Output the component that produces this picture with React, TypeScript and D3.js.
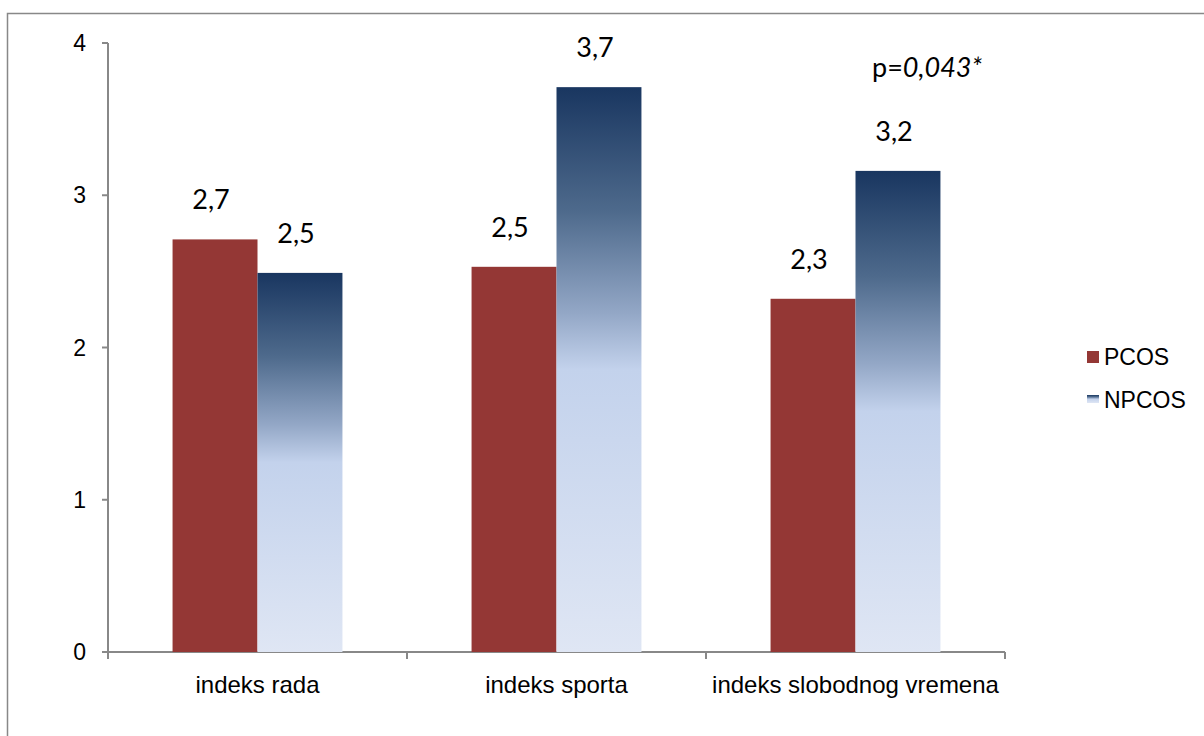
import { useEffect, useRef } from "react";
import * as d3 from "d3";

const categories = ["indeks rada", "indeks sporta", "indeks slobodnog vremena"];
const seriesNames = ["PCOS", "NPCOS"];
const pcosValues = [2.71, 2.53, 2.32];
const npcosValues = [2.49, 3.71, 3.16];
const yTicks = [0, 1, 2, 3, 4];

export default function App() {
  const svgRef = useRef<SVGSVGElement | null>(null);
  const width = 1204;
  const height = 736;
  const margin = { top: 43, left: 108, right: 199, bottom: 84 };

  useEffect(() => {
    if (!svgRef.current) return;
    const svg = d3.select(svgRef.current);
    svg.selectAll("*").remove();

    const defs = svg.append("defs");
    const grad = defs
      .append("linearGradient")
      .attr("id", "npcosGrad")
      .attr("x1", 0)
      .attr("y1", 0)
      .attr("x2", 0)
      .attr("y2", 1);
    [
      ["0%", "#193660"],
      ["22%", "#4e6a8c"],
      ["40%", "#93a7c6"],
      ["50%", "#c3d2ec"],
      ["100%", "#dfe6f4"],
    ].forEach(([o, c]) => grad.append("stop").attr("offset", o).attr("stop-color", c));

    // frame
    svg
      .append("rect")
      .attr("x", 7.5)
      .attr("y", 13.5)
      .attr("width", 1210)
      .attr("height", 740)
      .attr("fill", "none")
      .attr("stroke", "#888")
      .attr("stroke-width", 1.5);

    const x0 = d3
      .scaleBand()
      .domain(categories)
      .range([margin.left, width - margin.right])
      .paddingInner(0)
      .paddingOuter(0);

    const x1 = d3
      .scaleBand()
      .domain(seriesNames)
      .range([0, x0.bandwidth()])
      .paddingInner(0)
      .paddingOuter(0.76);

    const y = d3
      .scaleLinear()
      .domain([0, 4])
      .range([height - margin.bottom, margin.top]);

    const font = "'Liberation Sans', Arial, sans-serif";
    const labelFont = "Lato, 'Open Sans', sans-serif";

    // y axis
    const yAxis = svg.append("g").attr("transform", `translate(${margin.left},0)`);
    yAxis
      .append("line")
      .attr("x1", 0)
      .attr("x2", 0)
      .attr("y1", y(4))
      .attr("y2", y(0) + 7)
      .attr("stroke", "#888")
      .attr("stroke-width", 2);
    yTicks.forEach((t) => {
      yAxis
        .append("line")
        .attr("x1", -6)
        .attr("x2", 0)
        .attr("y1", y(t))
        .attr("y2", y(t))
        .attr("stroke", "#888")
        .attr("stroke-width", 2);
      yAxis
        .append("text")
        .attr("x", -22)
        .attr("y", y(t))
        .attr("dy", "0.35em")
        .attr("text-anchor", "end")
        .attr("font-family", font)
        .attr("font-size", 23)
        .text(String(t));
    });

    // x axis
    const xAxis = svg.append("g").attr("transform", `translate(0,${y(0)})`);
    xAxis
      .append("line")
      .attr("x1", margin.left)
      .attr("x2", width - margin.right)
      .attr("y1", 0)
      .attr("y2", 0)
      .attr("stroke", "#888")
      .attr("stroke-width", 2);
    const bounds = [...categories.map((c) => x0(c) as number), width - margin.right];
    bounds.forEach((b) => {
      xAxis
        .append("line")
        .attr("x1", b)
        .attr("x2", b)
        .attr("y1", 0)
        .attr("y2", 7)
        .attr("stroke", "#888")
        .attr("stroke-width", 2);
    });
    categories.forEach((c) => {
      xAxis
        .append("text")
        .attr("x", (x0(c) as number) + x0.bandwidth() / 2)
        .attr("y", 41)
        .attr("text-anchor", "middle")
        .attr("font-family", font)
        .attr("font-size", 24)
        .text(c);
    });

    // bars
    const rows = categories.map((c, i) => ({
      cat: c,
      vals: [
        { s: "PCOS", v: pcosValues[i] },
        { s: "NPCOS", v: npcosValues[i] },
      ],
    }));
    const fmt = (v: number) => d3.format(".1f")(v).replace(".", ",");

    const g = svg
      .append("g")
      .selectAll("g")
      .data(rows)
      .enter()
      .append("g")
      .attr("transform", (d) => `translate(${x0(d.cat)},0)`);

    g.selectAll("rect")
      .data((d) => d.vals)
      .enter()
      .append("rect")
      .attr("x", (d) => x1(d.s) as number)
      .attr("y", (d) => y(d.v))
      .attr("width", x1.bandwidth())
      .attr("height", (d) => y(0) - y(d.v))
      .attr("fill", (d) => (d.s === "PCOS" ? "#943735" : "url(#npcosGrad)"));

    g.selectAll("text")
      .data((d) => d.vals)
      .enter()
      .append("text")
      .attr("x", (d) => (x1(d.s) as number) + x1.bandwidth() / 2 - 4)
      .attr("y", (d) => y(d.v) - 30)
      .attr("text-anchor", "middle")
      .attr("font-family", labelFont)
      .attr("font-size", 27)
      .text((d) => fmt(d.v));

    // p-value annotation
    const p = svg
      .append("text")
      .attr("x", 872)
      .attr("y", 77)
      .attr("font-family", labelFont)
      .attr("font-size", 27);
    p.append("tspan").text("p=");
    p.append("tspan").attr("font-style", "italic").text("0,043*");

    // legend
    const legend = svg.append("g").attr("transform", "translate(1087,0)");
    legend
      .append("rect")
      .attr("x", 0)
      .attr("y", 351)
      .attr("width", 12)
      .attr("height", 12)
      .attr("fill", "#943735");
    legend
      .append("rect")
      .attr("x", 0)
      .attr("y", 395)
      .attr("width", 12)
      .attr("height", 8)
      .attr("fill", "url(#npcosGrad)");
    seriesNames.forEach((s, i) => {
      legend
        .append("text")
        .attr("x", 17)
        .attr("y", 365 + i * 43)
        .attr("font-family", font)
        .attr("font-size", 23)
        .text(s);
    });
  }, []);

  return (
    <svg
      ref={svgRef}
      width={width}
      height={height}
      style={{ position: "absolute", left: 0, top: 0, background: "#fff" }}
    />
  );
}
